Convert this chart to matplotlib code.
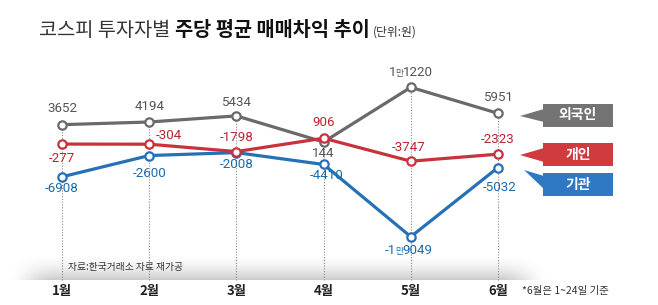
import numpy as np
import matplotlib
matplotlib.use("Agg")
import matplotlib.pyplot as plt
import matplotlib.transforms as mtransforms
from matplotlib.patches import Polygon, Rectangle

# ---------------- data ----------------
months = ['1월', '2월', '3월', '4월', '5월', '6월']
foreign = [3652, 4194, 5434, 144, 11220, 5951]          # 외국인
individual = [-277, -304, -1798, 906, -3747, -2323]     # 개인
institution = [-6908, -2600, -2008, -4410, -19049, -5032]  # 기관
series_names = ['외국인', '개인', '기관']

# ---------------- style / layout ----------------
W, H = 658, 305
C_GRAY, C_RED, C_BLUE = '#6a6a6a', '#c9313c', '#2670b6'
T_GRAY, T_RED, T_BLUE = '#555555', '#b8262f', '#1d6aa8'
NUM_FONT = ['Roboto', 'Noto Sans CJK KR']
KR_FONT = ['Noto Sans CJK KR', 'DejaVu Sans']
plt.rcParams['font.family'] = KR_FONT

fig = plt.figure(figsize=(W / 100, H / 100), dpi=100)
ax = fig.add_axes([0, 0, 1, 1])
ax.axis('off')

# map: month i -> pixel 62 + 87.2 i ; value 0 -> pixel 142.7, 0.004936 px/unit
X0, DX = 62.0, 87.2
Y0, SY = 142.7, 0.004936
XL = (-X0 / DX, (W - X0) / DX)
YL = (-(H - Y0) / SY, Y0 / SY)

pix = mtransforms.Affine2D().scale(1 / W, -1 / H).translate(0, 1) + fig.transFigure

# shadow band above month labels
bx = np.arange(W)
by = np.arange(250, 280)
hprof = np.clip((bx - 5) / 50, 0, 1) * np.clip((550 - bx) / 50, 0, 1)
hprof = hprof * hprof * (3 - 2 * hprof)
vprof = ((by - 250) / 29.0) ** 2
alpha = 0.2 * vprof[:, None] * hprof[None, :]
img = np.zeros((len(by), W, 4))
img[..., 3] = alpha
ax.imshow(img, extent=(0, W, 280, 250), transform=pix, aspect='auto',
          interpolation='bilinear', zorder=0)
ax.set_xlim(*XL)
ax.set_ylim(*YL)

x = np.arange(len(months))
bottom_val = -(280 - Y0) / SY
tops = np.max([foreign, individual, institution], axis=0)
ax.vlines(x, bottom_val, tops, colors='#8a8a8a', linestyles=(0, (1, 1.5)),
          linewidth=0.8, zorder=1)

for vals, col, z in [(foreign, C_GRAY, 2), (institution, C_BLUE, 3), (individual, C_RED, 4)]:
    ax.plot(x, vals, color=col, lw=2.3, zorder=z, solid_capstyle='round',
            marker='o', ms=6, mfc='white', mec=col, mew=1.6)


def fmt(v):
    s = '-' if v < 0 else ''
    a = abs(v)
    if a >= 10000:
        return [(s + str(a // 10000), 9.6), ('만', 6.3), (f'{a % 10000:04d}', 9.6)]
    return [(s + str(a), 9.6)]


compound = []


def label(xi, v, dx, dy, color):
    parts = fmt(v)
    if len(parts) == 1:
        ax.annotate(parts[0][0], (xi, v), xytext=(dx * 0.72, -dy * 0.72),
                    textcoords='offset points', ha='center', va='center',
                    fontsize=parts[0][1], color=color, family=NUM_FONT, zorder=6)
        return
    base = -(dy + 3.6) * 0.72
    arts = []
    for t, fs in parts:
        a = ax.annotate(t, (xi, v), xytext=(dx * 0.72, base),
                        textcoords='offset points', ha='left', va='baseline',
                        fontsize=fs, color=color, family=NUM_FONT, zorder=6)
        arts.append(a)
    compound.append((arts, dx, base))


gray_off = [(0, -16), (0, -15), (0, -13), (0, 12), (0, -15), (0, -16)]
red_off = [(0, 14), (20, -9), (0, -14), (0, -16), (-2, -14), (0, -15)]
blue_off = [(0, 12), (0, 18), (0, 12), (3, 11), (-2, 14), (2, 20)]

for vals, offs, col in [(foreign, gray_off, T_GRAY), (individual, red_off, T_RED),
                        (institution, blue_off, T_BLUE)]:
    for i, v in enumerate(vals):
        label(i, v, offs[i][0], offs[i][1], col)

# lay out compound labels side by side, centred
fig.canvas.draw()
rend = fig.canvas.get_renderer()
for arts, dx, base in compound:
    widths = [a.get_window_extent(rend).width * 72 / fig.dpi for a in arts]
    gaps = [0, -0.6, -0.4]
    total = sum(widths) + sum(gaps[1:])
    cur = dx * 0.72 - total / 2
    for a, w, g in zip(arts, widths, gaps):
        cur += g
        a.xyann = (cur, base)
        cur += w

# month labels
for i, m in enumerate(months):
    ax.text(i, -(291 - Y0) / SY, m, ha='center', va='center', fontsize=9.5,
            fontweight='bold', color='#222222', family=KR_FONT)

# title
TB = 1 - 36 / H
t1 = fig.text(39 / W, TB, '코스피 투자자별 ', fontsize=14.2, color='#333333',
              ha='left', va='baseline', family=KR_FONT)
fig.canvas.draw()
bb1 = t1.get_window_extent(rend)
t2 = fig.text(bb1.x1 / W, TB, '주당 평균 매매차익 추이',
              fontsize=14.2, fontweight='bold', color='#111111', ha='left', va='baseline')
fig.canvas.draw()
bb2 = t2.get_window_extent(rend)
fig.text(bb2.x1 / W + 4 / W, TB, '(단위:원)', fontsize=8.5,
         color='#333333', ha='left', va='baseline')

# footnotes
fig.text(68 / W, 1 - 267 / H, '자료:한국거래소 자료 재가공', fontsize=7.0, color='#333333',
         ha='left', va='center')
fig.text(522 / W, 1 - 291 / H, '*6월은 1~24일 기준', fontsize=7.5, color='#333333',
         ha='left', va='center')

# legend callouts
boxes = [
    (series_names[0], '#737373', (104, 127), [(520, 116), (544, 109), (544, 122)]),
    (series_names[1], '#cf3b3f', (143, 166), [(520, 155), (544, 148), (544, 162)]),
    (series_names[2], '#2f78c4', (173, 196), [(524, 170), (544, 176), (544, 189)]),
]
for name, col, (ya, yb), tri in boxes:
    fig.patches.append(Rectangle((543, ya), 70, yb - ya, transform=pix,
                                 facecolor=col, edgecolor='none'))
    fig.patches.append(Polygon(tri, closed=True, transform=pix,
                               facecolor=col, edgecolor='none'))
    fig.text(578 / W, 1 - ((ya + yb) / 2) / H, name, color='white', fontsize=10,
             fontweight='bold', ha='center', va='center')

fig.savefig('out.png', dpi=100)
